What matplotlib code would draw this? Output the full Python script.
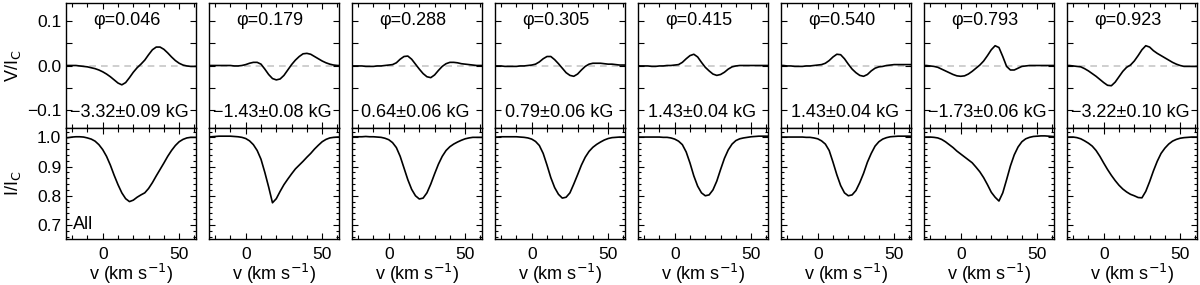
import numpy as np
import matplotlib
matplotlib.use('Agg')
import matplotlib.pyplot as plt
from matplotlib.ticker import MultipleLocator

plt.rcParams['font.family'] = ['Liberation Sans', 'DejaVu Sans']
plt.rcParams['axes.linewidth'] = 1.0

# velocity grid (km/s)
vel = np.arange(-25.0, 63.0, 2.5)

phases = ['0.046', '0.179', '0.288', '0.305', '0.415', '0.540', '0.793', '0.923']
fields = ['\u22123.32\u00b10.09 kG', '\u22121.43\u00b10.08 kG', '0.64\u00b10.06 kG',
          '0.79\u00b10.06 kG', '1.43\u00b10.04 kG', '1.43\u00b10.04 kG',
          '\u22121.73\u00b10.06 kG', '\u22123.22\u00b10.10 kG']

# Stokes V / Ic, one list per phase
V1 = [0.000, 0.000, 0.000, 0.000, -0.001, -0.002, -0.003, -0.005, -0.007, -0.010,
      -0.014, -0.019, -0.025, -0.032, -0.039, -0.043, -0.038, -0.027, -0.015, -0.005,
      0.003, 0.012, 0.024, 0.035, 0.041, 0.041, 0.036, 0.028, 0.019, 0.011,
      0.005, 0.001, -0.001, -0.002, -0.002, -0.002]
V2 = [0.000, 0.000, 0.000, 0.000, 0.000, 0.000, 0.000, -0.001, -0.001, 0.000,
      0.002, 0.005, 0.007, 0.007, 0.003, -0.008, -0.020, -0.029, -0.032, -0.030,
      -0.022, -0.010, 0.002, 0.012, 0.020, 0.026, 0.027, 0.025, 0.020, 0.015,
      0.010, 0.006, 0.003, 0.001, 0.000, 0.000]
V3 = [-0.001, -0.001, -0.001, -0.001, -0.002, -0.002, -0.002, -0.001, -0.001, 0.000,
      0.001, 0.002, 0.006, 0.014, 0.020, 0.021, 0.014, 0.003, -0.008, -0.018,
      -0.025, -0.027, -0.021, -0.011, -0.002, 0.004, 0.007, 0.007, 0.006, 0.004,
      0.003, 0.002, 0.001, 0.000, 0.000, 0.000]
V4 = [-0.001, -0.001, -0.001, -0.002, -0.002, -0.002, -0.002, -0.001, -0.001, 0.000,
      0.001, 0.003, 0.008, 0.015, 0.020, 0.020, 0.013, 0.004, -0.006, -0.016,
      -0.022, -0.024, -0.019, -0.010, -0.002, 0.003, 0.005, 0.005, 0.005, 0.004,
      0.003, 0.003, 0.002, 0.001, 0.001, 0.001]
V5 = [0.000, -0.001, -0.001, -0.001, -0.002, -0.002, -0.001, -0.001, 0.000, 0.000,
      0.001, 0.002, 0.007, 0.015, 0.022, 0.025, 0.019, 0.007, -0.004, -0.012,
      -0.019, -0.022, -0.020, -0.015, -0.008, -0.003, -0.001, 0.000, 0.000, 0.000,
      0.000, 0.000, 0.000, 0.000, 0.000, 0.000]
V6 = [0.000, 0.000, -0.001, -0.001, -0.002, -0.002, -0.002, -0.001, -0.001, 0.000,
      0.001, 0.002, 0.005, 0.011, 0.019, 0.025, 0.024, 0.015, 0.003, -0.008,
      -0.016, -0.022, -0.024, -0.020, -0.012, -0.006, -0.003, -0.002, 0.000, 0.001,
      0.002, 0.002, 0.002, 0.002, 0.002, 0.002]
V7 = [0.000, 0.000, -0.001, -0.002, -0.004, -0.008, -0.012, -0.016, -0.020, -0.023,
      -0.024, -0.023, -0.019, -0.013, -0.006, 0.001, 0.010, 0.022, 0.035, 0.044,
      0.040, 0.020, -0.002, -0.010, -0.010, -0.006, -0.002, -0.001, 0.000, 0.000,
      0.000, 0.000, 0.000, 0.000, 0.000, 0.000]
V8 = [0.000, 0.000, -0.001, -0.002, -0.003, -0.007, -0.012, -0.018, -0.024, -0.031,
      -0.038, -0.044, -0.045, -0.037, -0.025, -0.013, -0.004, 0.001, 0.010, 0.022,
      0.035, 0.044, 0.041, 0.033, 0.027, 0.022, 0.017, 0.012, 0.007, 0.003,
      0.000, -0.002, -0.002, -0.002, -0.002, -0.002]

# Stokes I / Ic, one list per phase
I1 = [0.998, 0.999, 1.001, 1.002, 1.002, 1.001, 0.998, 0.994, 0.987, 0.975,
      0.958, 0.935, 0.905, 0.870, 0.838, 0.810, 0.790, 0.780, 0.785, 0.795,
      0.803, 0.810, 0.825, 0.845, 0.868, 0.890, 0.912, 0.935, 0.955, 0.972,
      0.985, 0.993, 0.998, 1.000, 1.000, 1.000]
I2 = [1.000, 1.002, 1.003, 1.004, 1.004, 1.004, 1.004, 1.003, 1.002, 1.000,
      0.996, 0.988, 0.975, 0.955, 0.925, 0.880, 0.830, 0.776, 0.790, 0.815,
      0.838, 0.857, 0.875, 0.892, 0.905, 0.918, 0.932, 0.945, 0.960, 0.973,
      0.985, 0.993, 0.998, 1.000, 1.001, 1.001]
I3 = [1.001, 1.002, 1.002, 1.002, 1.003, 1.002, 1.002, 1.001, 1.000, 0.997,
      0.992, 0.982, 0.965, 0.935, 0.895, 0.855, 0.822, 0.800, 0.789, 0.792,
      0.810, 0.840, 0.875, 0.908, 0.935, 0.955, 0.968, 0.977, 0.984, 0.990,
      0.995, 0.998, 1.000, 1.000, 1.000, 1.000]
I4 = [1.001, 1.001, 1.002, 1.002, 1.002, 1.002, 1.002, 1.001, 1.000, 0.998,
      0.994, 0.986, 0.972, 0.945, 0.905, 0.862, 0.828, 0.805, 0.792, 0.795,
      0.810, 0.840, 0.872, 0.905, 0.932, 0.952, 0.966, 0.976, 0.984, 0.991,
      0.996, 0.999, 1.000, 1.001, 1.001, 1.001]
I5 = [1.001, 1.001, 1.001, 1.001, 1.001, 1.001, 1.001, 1.000, 1.000, 0.998,
      0.994, 0.987, 0.975, 0.950, 0.912, 0.868, 0.833, 0.810, 0.800, 0.803,
      0.820, 0.850, 0.890, 0.928, 0.957, 0.977, 0.989, 0.995, 0.998, 1.000,
      1.002, 1.003, 1.004, 1.004, 1.004, 1.004]
I6 = [1.001, 1.001, 1.001, 1.001, 1.001, 1.001, 1.001, 1.000, 1.000, 0.998,
      0.995, 0.988, 0.977, 0.955, 0.915, 0.872, 0.835, 0.810, 0.800, 0.803,
      0.818, 0.845, 0.877, 0.915, 0.945, 0.970, 0.985, 0.994, 0.999, 1.002,
      1.003, 1.004, 1.004, 1.004, 1.004, 1.003]
I7 = [1.000, 1.001, 1.001, 1.000, 0.998, 0.993, 0.985, 0.975, 0.965, 0.953,
      0.943, 0.933, 0.923, 0.913, 0.898, 0.882, 0.862, 0.838, 0.812, 0.795,
      0.782, 0.810, 0.855, 0.902, 0.940, 0.967, 0.985, 0.995, 1.000, 1.003,
      1.004, 1.005, 1.005, 1.004, 1.003, 1.002]
I8 = [1.000, 1.001, 1.001, 0.999, 0.995, 0.988, 0.980, 0.970, 0.955, 0.935,
      0.912, 0.890, 0.870, 0.852, 0.836, 0.823, 0.813, 0.805, 0.800, 0.794,
      0.793, 0.815, 0.848, 0.885, 0.918, 0.945, 0.963, 0.977, 0.987, 0.993,
      0.997, 0.999, 1.000, 1.001, 1.001, 1.001]

Vall = [V1, V2, V3, V4, V5, V6, V7, V8]
Iall = [I1, I2, I3, I4, I5, I6, I7, I8]

### ----------- Plot -----------

fig = plt.figure(figsize=(12, 2.85), dpi=100)
W, H = 1200.0, 285.0
fs = 12.5   # tick labels
ft = 13     # panel texts and axis labels

def style(ax):
    ax.set_xlim(-24, 61)
    ax.xaxis.set_major_locator(MultipleLocator(50))
    ax.xaxis.set_minor_locator(MultipleLocator(10))
    ax.tick_params(which='both', direction='in', top=True, right=True,
                   labelsize=fs, width=0.8)
    ax.tick_params(which='major', length=4)
    ax.tick_params(which='minor', length=3)
    ax.tick_params(axis='x', which='major', pad=6)

for i in range(8):
    left = (66 + 143 * i) / W
    axt = fig.add_axes([left, 1 - 128 / H, 130 / W, 125 / H])
    axb = fig.add_axes([left, 1 - 239 / H, 130 / W, 111 / H])

    # top: Stokes V
    axt.axhline(0, color='0.78', ls=(0, (4, 3)), lw=1.2, zorder=1)
    axt.plot(vel, Vall[i], color='k', lw=1.2, zorder=2)
    style(axt)
    axt.set_ylim(-0.139, 0.139)
    axt.yaxis.set_major_locator(MultipleLocator(0.1))
    axt.yaxis.set_minor_locator(MultipleLocator(0.05))
    axt.tick_params(which='minor', axis='y', length=4)
    axt.set_xticklabels([])
    axt.text(0.47, 0.862, '\u03c6=' + phases[i], transform=axt.transAxes,
             ha='center', va='center', fontsize=ft)
    axt.text(0.49, 0.128, fields[i], transform=axt.transAxes,
             ha='center', va='center', fontsize=ft)

    # bottom: Stokes I
    axb.plot(vel, Iall[i], color='k', lw=1.2)
    style(axb)
    axb.set_ylim(0.652, 1.032)
    axb.yaxis.set_major_locator(MultipleLocator(0.1))
    axb.yaxis.set_minor_locator(MultipleLocator(0.02))
    axb.tick_params(which='minor', axis='y', length=2)
    axb.set_xlabel('v (km s$^{-1}$)', fontsize=ft, labelpad=0)

    if i == 0:
        axt.set_yticks([-0.1, 0.0, 0.1])
        axt.set_yticklabels(['\u22120.1', '0.0', '0.1'])
        axt.set_ylabel('V/I$_\\mathrm{C}$', fontsize=ft)
        axt.yaxis.set_label_coords(-0.33, 0.5)
        axb.set_yticks([0.7, 0.8, 0.9, 1.0])
        axb.set_yticklabels(['0.7', '0.8', '0.9', '1.0'])
        axb.set_ylabel('I/I$_\\mathrm{C}$', fontsize=ft)
        axb.yaxis.set_label_coords(-0.33, 0.5)
        axb.text(0.05, 0.13, 'All', transform=axb.transAxes,
                 ha='left', va='center', fontsize=ft)
    else:
        axt.set_yticklabels([])
        axb.set_yticklabels([])

fig.savefig('out.png', dpi=100)
